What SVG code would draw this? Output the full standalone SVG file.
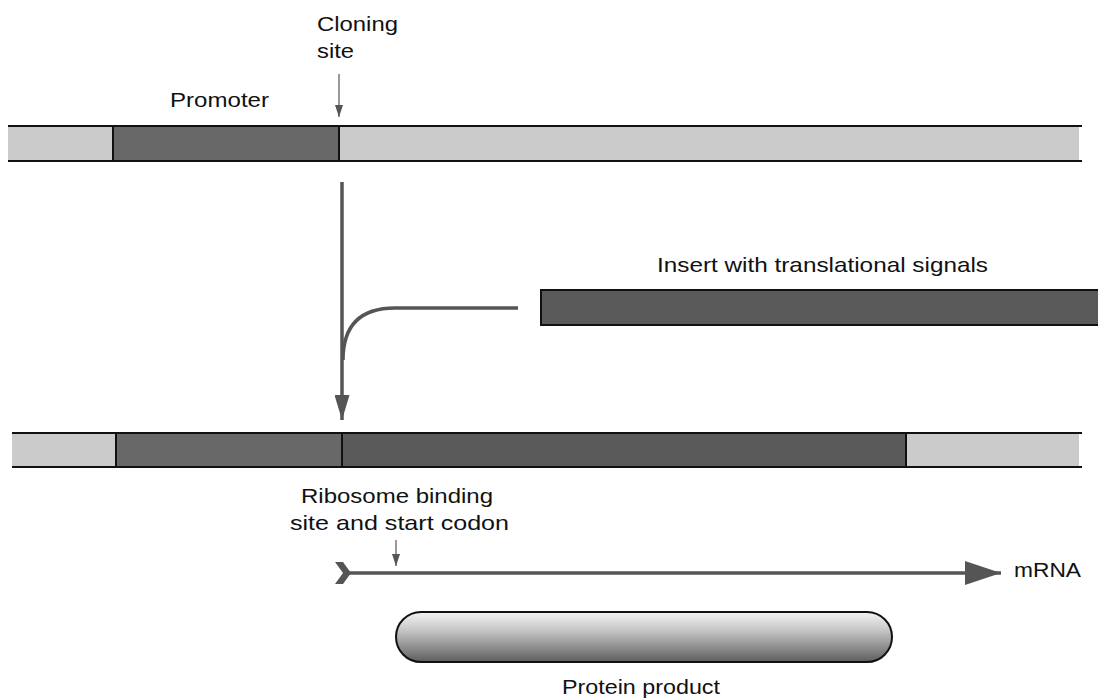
<svg xmlns="http://www.w3.org/2000/svg" width="1098" height="698" viewBox="0 0 1098 698">
  <defs>
    <style>
      .lbl { font-family: "Liberation Sans", Arial, sans-serif; font-size: 21px; fill: #111; }
      .bg { fill: #cbcbcb; stroke: none; }
      .edge { stroke: #111; stroke-width: 2; }
      .prom { fill: #686868; stroke: #111; stroke-width: 2; }
      .ins { fill: #5a5a5a; stroke: #111; stroke-width: 2; }
      .flow { fill: none; stroke: #555; stroke-width: 3.5; }
      .thin { fill: none; stroke: #555; stroke-width: 1.2; }
    </style>
    <linearGradient id="protGrad" x1="0" y1="0" x2="0" y2="1">
      <stop offset="0" stop-color="#f4f4f4"/>
      <stop offset="0.35" stop-color="#c8c8c8"/>
      <stop offset="1" stop-color="#5e5e5e"/>
    </linearGradient>
    <marker id="bigHead" viewBox="0 0 25 15" refX="25" refY="7.5" markerWidth="25" markerHeight="15" markerUnits="userSpaceOnUse" orient="auto">
      <path d="M0,0 L25,7.5 L0,15 Z" fill="#555"/>
    </marker>
    <marker id="smallHead" viewBox="0 0 12 8" refX="12" refY="4" markerWidth="12" markerHeight="8" markerUnits="userSpaceOnUse" orient="auto">
      <path d="M0,0 L12,4 L0,8 Z" fill="#555"/>
    </marker>
    <marker id="mrnaHead" viewBox="0 0 36 24" refX="36" refY="12" markerWidth="36" markerHeight="24" markerUnits="userSpaceOnUse" orient="auto">
      <path d="M0,0 L36,12 L0,24 Z" fill="#555"/>
    </marker>
  </defs>

  <rect width="1098" height="698" fill="#fff"/>

  <!-- vector before insertion -->
  <g id="vector">
    <rect class="bg" x="8" y="127" width="1071" height="34"/>
    <line class="edge" x1="8" y1="126" x2="1082" y2="126"/>
    <line class="edge" x1="8" y1="161" x2="1082" y2="161"/>
    <rect class="prom" x="113" y="126" width="226" height="35"/>
  </g>

  <g id="promoter-label">
    <text class="lbl" x="170" y="107" textLength="99" lengthAdjust="spacingAndGlyphs">Promoter</text>
  </g>

  <g id="cloning-site">
    <text class="lbl" x="317" y="31" textLength="81" lengthAdjust="spacingAndGlyphs">Cloning</text>
    <text class="lbl" x="317" y="58" textLength="37" lengthAdjust="spacingAndGlyphs">site</text>
  </g>

  <!-- insert fragment -->
  <g id="insert">
    <rect class="ins" x="541" y="290" width="560" height="35"/>
    <text class="lbl" x="657" y="272" textLength="331" lengthAdjust="spacingAndGlyphs">Insert with translational signals</text>
  </g>

  <!-- recombinant vector -->
  <g id="recombinant">
    <rect class="bg" x="12" y="434" width="1067" height="33"/>
    <line class="edge" x1="12" y1="433" x2="1082" y2="433"/>
    <line class="edge" x1="12" y1="467" x2="1082" y2="467"/>
    <rect class="prom" x="116" y="433" width="226" height="34"/>
    <rect class="ins" x="342" y="433" width="564" height="34"/>
  </g>

  <g id="rbs-label">
    <text class="lbl" x="301" y="503" textLength="192" lengthAdjust="spacingAndGlyphs">Ribosome binding</text>
    <text class="lbl" x="290" y="530" textLength="219" lengthAdjust="spacingAndGlyphs">site and start codon</text>
  </g>

  <g id="mrna">
    <polygon points="335,562 343,562 351,573 343,584 335,584 343,573" fill="#555"/>
    <text class="lbl" x="1014" y="577" textLength="67" lengthAdjust="spacingAndGlyphs">mRNA</text>
  </g>

  <g id="protein">
    <rect x="396" y="612" width="496" height="50" rx="25" ry="25" fill="url(#protGrad)" stroke="#111" stroke-width="2"/>
    <text class="lbl" x="562" y="694" textLength="158" lengthAdjust="spacingAndGlyphs">Protein product</text>
  </g>

  <!-- connectors -->
  <g id="connectors">
    <line class="thin" x1="339" y1="74" x2="339" y2="117" marker-end="url(#smallHead)"/>
    <line class="flow" x1="342" y1="182" x2="342" y2="420" marker-end="url(#bigHead)"/>
    <path class="flow" d="M518,308 L395,308 Q343,308 343,360"/>
    <line class="thin" x1="396" y1="540" x2="396" y2="566" stroke-width="1" marker-end="url(#smallHead)"/>
    <line class="flow" x1="348" y1="573" x2="1001" y2="573" marker-end="url(#mrnaHead)"/>
  </g>
</svg>
